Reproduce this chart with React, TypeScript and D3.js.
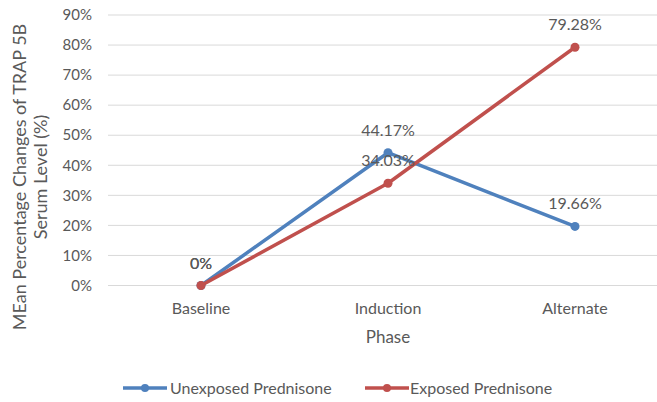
import React from "react";
import * as d3 from "d3";

const categories = ["Baseline", "Induction", "Alternate"];
const unexposed = [0, 44.17, 19.66];
const exposed = [0, 34.03, 79.28];
const unexposedLabels = ["0%", "44.17%", "19.66%"];
const exposedLabels = ["0%", "34.03%", "79.28%"];
const yTicks = [0, 10, 20, 30, 40, 50, 60, 70, 80, 90];
const seriesNames = ["Unexposed Prednisone", "Exposed Prednisone"];
const seriesColors = ["#4F81BD", "#C0504D"];

const W = 657;
const H = 402;
const FONT = "Lato, 'Open Sans', sans-serif";
const TEXT = "#595959";

export default function App() {
  const x = d3.scalePoint<string>().domain(categories).range([201, 575]);
  const y = d3.scaleLinear().domain([0, 90]).range([285.5, 15]);
  const gridX0 = 108;
  const gridX1 = 670;
  const line = d3
    .line<number>()
    .x((_, i) => x(categories[i]) as number)
    .y((d) => y(d));

  const series = [
    { name: seriesNames[0], values: unexposed, labels: unexposedLabels, color: seriesColors[0] },
    { name: seriesNames[1], values: exposed, labels: exposedLabels, color: seriesColors[1] },
  ];

  const legendItems = [
    { x: 123, textX: 170 },
    { x: 365, textX: 410 },
  ];

  return (
    <svg
      width={W}
      height={H}
      style={{ position: "absolute", left: 0, top: 0, background: "#fff" }}
      fontFamily={FONT}
    >
      {yTicks.map((t) => (
        <g key={t}>
          <line x1={gridX0} x2={gridX1} y1={y(t)} y2={y(t)} stroke="#d9d9d9" strokeWidth={1} />
          <text x={92} y={y(t)} dy="0.35em" textAnchor="end" fontSize={15} fill={TEXT}>
            {t}%
          </text>
        </g>
      ))}
      {categories.map((c) => (
        <text key={c} x={x(c)} y={314} textAnchor="middle" fontSize={16} fill={TEXT}>
          {c}
        </text>
      ))}
      <text x={388} y={343} textAnchor="middle" fontSize={17} fill={TEXT}>
        Phase
      </text>
      <g transform="translate(0,177) rotate(-90)">
        <text x={0} y={26} textAnchor="middle" fontSize={18} fill={TEXT}>
          MEan Percentage Changes of TRAP 5B
        </text>
        <text x={0} y={47} textAnchor="middle" fontSize={18} fill={TEXT}>
          Serum Level (%)
        </text>
      </g>
      {series.map((s) => (
        <g key={s.name}>
          <path d={line(s.values) || ""} fill="none" stroke={s.color} strokeWidth={3.5} strokeLinecap="round" strokeLinejoin="round" />
          {s.values.map((v, i) => (
            <circle key={i} cx={x(categories[i])} cy={y(v)} r={4.5} fill={s.color} />
          ))}
        </g>
      ))}
      {series.map((s) =>
        s.values.map((v, i) => (
          <text
            key={s.name + i}
            x={x(categories[i])}
            y={y(v) - 17}
            textAnchor="middle"
            fontSize={16}
            fill={TEXT}
          >
            {s.labels[i]}
          </text>
        ))
      )}
      {series.map((s, i) => (
        <g key={"lg" + i}>
          <line x1={legendItems[i].x} x2={legendItems[i].x + 44} y1={388} y2={388} stroke={s.color} strokeWidth={3.5} />
          <circle cx={legendItems[i].x + 22} cy={388} r={4} fill={s.color} />
          <text x={legendItems[i].textX} y={394} fontSize={16} fill={TEXT}>
            {s.name}
          </text>
        </g>
      ))}
    </svg>
  );
}
